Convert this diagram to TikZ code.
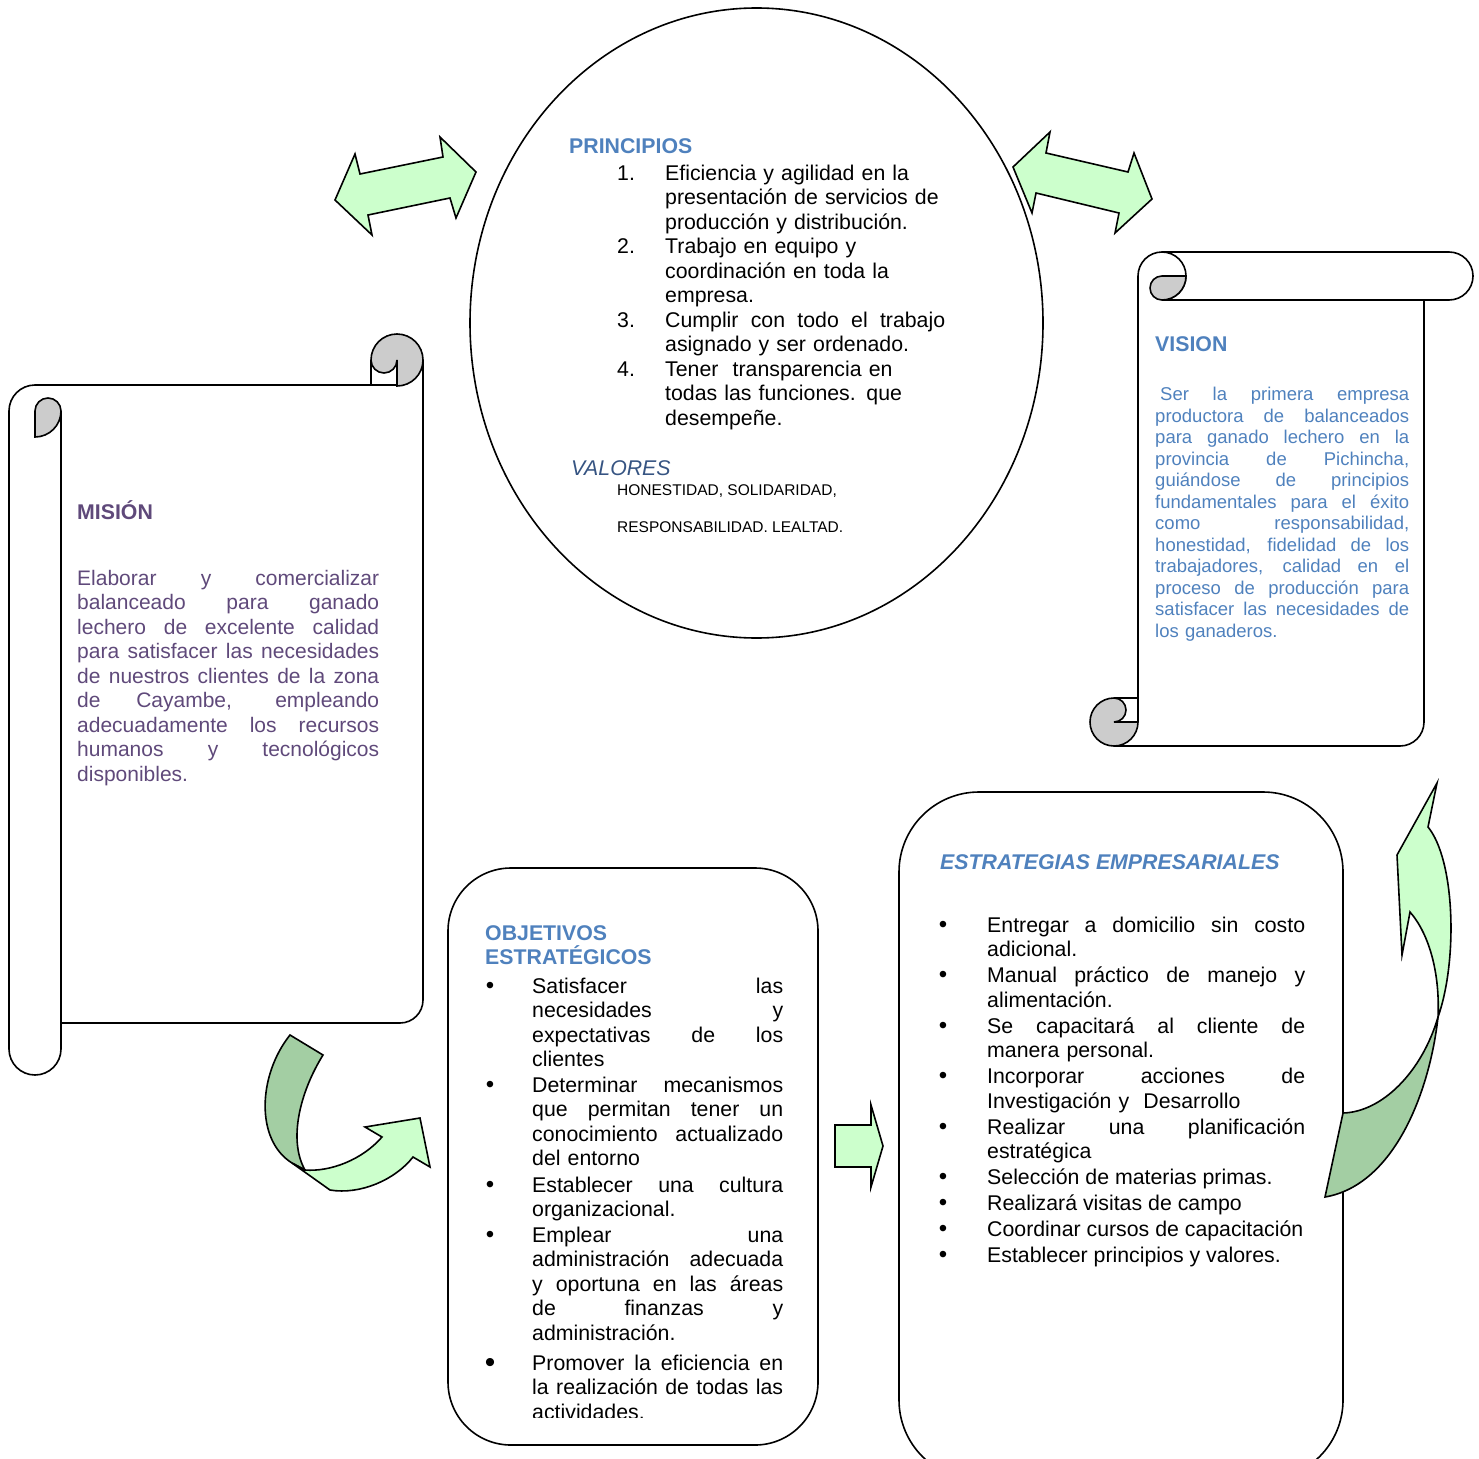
\documentclass[tikz,border=0pt]{standalone}
\usepackage{fontspec}
\setmainfont{Liberation Sans}
\usepackage{tikz}
\usetikzlibrary{arrows}
\usepackage{color}
\definecolor{headblue}{RGB}{79,129,189}
\definecolor{misviolet}{RGB}{95,73,122}
\definecolor{valblue}{RGB}{54,84,130}
\definecolor{lightgreen}{RGB}{204,255,204}
\definecolor{darkgreen}{RGB}{163,206,163}
\definecolor{curlgray}{RGB}{204,204,204}
\newcommand{\jl}[1]{\makebox[\linewidth][s]{\spaceskip=0pt\xspaceskip=0pt #1}}
\tikzset{
  scrollline/.style={draw=black,line width=1.6pt},
  greenarrow/.style={scrollline,fill=lightgreen,line join=miter},
  curlfill/.style={scrollline,fill=curlgray},
  bodytext/.style={inner sep=0pt,anchor=base west,align=left,font=\fontsize{21.3}{24.5}\selectfont},
  visiontext/.style={bodytext,text=headblue,font=\fontsize{18.5}{21.5}\selectfont},
  headtext/.style={bodytext,text=headblue,font=\fontsize{21.3}{24.5}\selectfont\bfseries},
  bulletdot/.style={inner sep=0pt,anchor=base,font=\fontsize{24}{24.5}\selectfont}
}

\begin{document}
\begin{tikzpicture}[x=1pt,y=1pt]
\useasboundingbox (0,0) rectangle (1479,-1458);
\clip (0,0) rectangle (1479,-1458);

% principios y valores
\draw[scrollline] (756.5,-323) ellipse (286.5 and 315);
\node[headtext] (princ) at (569,-154) {PRINCIPIOS};
\foreach \n/\y in {1/180,2/253.5,3/327,4/376} % edit here for the numbers
\node[bodytext] (num\n) at (617,-\y) {\n.};
\node[bodytext,text width=280pt] (prin1) at (665,-180) {Eficiencia y agilidad en la\\presentación de servicios de\\producción y distribución.};
\node[bodytext,text width=280pt] (prin2) at (665,-253.5) {Trabajo en equipo y\\coordinación en toda la\\empresa.};
\node[bodytext,text width=280pt] (prin3) at (665,-327) {\jl{Cumplir con todo el trabajo}\\asignado y ser ordenado.};
\node[bodytext,text width=280pt] (prin4) at (665,-376) {Tener\ \ transparencia en\\todas las funciones. que\\desempeñe.};
\node[bodytext,text=valblue,font=\fontsize{21.3}{24.5}\selectfont\itshape] (valores) at (571,-475) {VALORES};
\node[bodytext,font=\fontsize{15.5}{18}\selectfont] (val1) at (617,-495) {HONESTIDAD, SOLIDARIDAD,};
\node[bodytext,font=\fontsize{15.5}{18}\selectfont] (val2) at (617,-532) {RESPONSABILIDAD. LEALTAD.};

% double arrows at the top
\draw[greenarrow] (335,-200) -- (355,-154) -- (360,-174) -- (443,-157) -- (440,-137) -- (476,-172) -- (456,-218) -- (450,-198) -- (368,-215) -- (372,-235) -- cycle;
\draw[greenarrow] (1013,-167) -- (1050,-132) -- (1046,-153) -- (1128,-172) -- (1134,-153) -- (1152,-199) -- (1115,-233) -- (1119,-213) -- (1036,-193) -- (1032,-213) -- cycle;

% vision scroll
\draw[scrollline] (1138,-722) -- (1138,-276) arc[start angle=180,end angle=90,radius=24] -- (1449,-252) arc[start angle=90,end angle=-90,radius=24] -- (1162,-300);
\draw[scrollline] (1162,-252) arc[start angle=90,end angle=-90,radius=24];
\draw[curlfill] (1162,-276) -- (1186,-276) arc[start angle=0,end angle=-90,radius=24] arc[start angle=-90,end angle=-270,radius=12] -- cycle;
\draw[scrollline] (1424,-300) -- (1424,-722) arc[start angle=0,end angle=-90,radius=24] -- (1114,-746);
\draw[curlfill] (1114,-698) arc[start angle=90,end angle=360,radius=24] -- (1114,-722) arc[start angle=-90,end angle=90,radius=12] -- cycle;
\draw[scrollline] (1114,-698) -- (1138,-698);
\node[headtext] (vis) at (1155,-351) {VISION};
\node[visiontext,text width=254pt] (vistxt) at (1155,-400.5) {\jl{\hspace*{5pt}Ser la primera empresa}\\\jl{productora de balanceados}\\\jl{para ganado lechero en la}\\\jl{provincia de Pichincha,}\\\jl{guiándose de principios}\\\jl{fundamentales para el éxito}\\\jl{como responsabilidad,}\\\jl{honestidad, fidelidad de los}\\\jl{trabajadores, calidad en el}\\\jl{proceso de producción para}\\\jl{satisfacer las necesidades de}\\los ganaderos.};

% mision scroll
\draw[scrollline] (61,-411) -- (61,-1049) arc[start angle=0,end angle=-180,radius=26] -- (9,-411) arc[start angle=180,end angle=90,radius=26] -- (397,-385);
\draw[curlfill] (35,-411) arc[start angle=180,end angle=0,radius=13] arc[start angle=0,end angle=-90,radius=26] -- cycle;
\draw[curlfill] (371,-360) arc[start angle=180,end angle=-90,radius=26] -- (397,-360) arc[start angle=0,end angle=-180,radius=13] -- cycle;
\draw[scrollline] (371,-360) -- (371,-385);
\draw[scrollline] (423,-360) -- (423,-1000) arc[start angle=0,end angle=-90,radius=23] -- (61,-1023);
\node[headtext,text=misviolet] (mis) at (77,-519) {MISIÓN};
\node[bodytext,text=misviolet,text width=302pt,font=\fontsize{21}{24.5}\selectfont] (mistxt) at (77,-585) {\jl{Elaborar y comercializar}\\\jl{balanceado para ganado}\\\jl{lechero de excelente calidad}\\\jl{para satisfacer las necesidades}\\\jl{de nuestros clientes de la zona}\\\jl{de Cayambe, empleando}\\\jl{adecuadamente los recursos}\\\jl{humanos y tecnológicos}\\disponibles.};

% curved arrow mision -> objetivos
\draw[scrollline,fill=darkgreen] (290,-1035) -- (323,-1055) .. controls (300,-1092) and (288,-1140) .. (305,-1170) -- (292,-1163) .. controls (255,-1140) and (258,-1075) .. (290,-1035) -- cycle;
\draw[greenarrow] (292,-1163) -- (305,-1170) .. controls (330,-1172) and (362,-1160) .. (382,-1137) -- (365,-1127) -- (420,-1118) -- (430,-1167) -- (413,-1157) .. controls (395,-1180) and (360,-1195) .. (330,-1190) -- cycle;

% objetivos
\draw[scrollline,rounded corners=63pt] (448,-868) rectangle (818,-1445);
\node[headtext,text width=250pt] (obj) at (485,-940) {OBJETIVOS\\ESTRATÉGICOS};
\foreach \y in {993,1092,1192,1242} % edit here for the bullets
\node[bulletdot] (objdot\y) at (490,-\y) {•};
\node[bulletdot,font=\fontsize{30}{30}\selectfont] (objdot1370) at (490,-1372) {•};
\begin{scope}
\clip (448,-860) rectangle (818,-1417);
\node[bodytext,text width=251pt] (obj1) at (532,-993) {\jl{Satisfacer las}\\\jl{necesidades y}\\\jl{expectativas de los}\\clientes};
\node[bodytext,text width=251pt] (obj2) at (532,-1092) {\jl{Determinar mecanismos}\\\jl{que permitan tener un}\\\jl{conocimiento actualizado}\\del entorno};
\node[bodytext,text width=251pt] (obj3) at (532,-1192) {\jl{Establecer una cultura}\\organizacional.};
\node[bodytext,text width=251pt] (obj4) at (532,-1242) {\jl{Emplear una}\\\jl{administración adecuada}\\\jl{y oportuna en las áreas}\\\jl{de finanzas y}\\administración.};
\node[bodytext,text width=251pt] (obj5) at (532,-1370) {\jl{Promover la eficiencia en}\\\jl{la realización de todas las}\\actividades.};
\end{scope}

% arrow objetivos -> estrategias
\draw[greenarrow] (835,-1125) -- (871,-1125) -- (871,-1105) -- (883,-1146) -- (871,-1187) -- (871,-1167) -- (835,-1167) -- cycle;

% estrategias
\draw[scrollline,rounded corners=80pt] (899,-792) rectangle (1343,-1480);
\node[headtext,font=\fontsize{21.3}{24.5}\selectfont\bfseries\itshape] (estr) at (940,-869) {ESTRATEGIAS EMPRESARIALES};
\foreach \y in {932,982.5,1033,1083.5,1134,1184,1210,1236,1262} % edit here for the bullets
\node[bulletdot] (estdot\y) at (943,-\y) {•};
\node[bodytext,text width=318pt] (est1) at (987,-932) {\jl{Entregar a domicilio sin costo}\\adicional.};
\node[bodytext,text width=318pt] (est2) at (987,-982.5) {\jl{Manual práctico de manejo y}\\alimentación.};
\node[bodytext,text width=318pt] (est3) at (987,-1033) {\jl{Se capacitará al cliente de}\\manera personal.};
\node[bodytext,text width=318pt] (est4) at (987,-1083.5) {\jl{Incorporar acciones de}\\Investigación y\ \ Desarrollo};
\node[bodytext,text width=318pt] (est5) at (987,-1134) {\jl{Realizar una planificación}\\estratégica};
\node[bodytext] (est6) at (987,-1184) {Selección de materias primas.};
\node[bodytext] (est7) at (987,-1210) {Realizará visitas de campo};
\node[bodytext] (est8) at (987,-1236) {Coordinar cursos de capacitación};
\node[bodytext] (est9) at (987,-1262) {Establecer principios y valores.};

% curved arrow estrategias -> vision
\draw[greenarrow] (1437,-783) -- (1428,-827) .. controls (1455,-860) and (1458,-960) .. (1438,-1017) .. controls (1440,-975) and (1430,-935) .. (1410,-912) -- (1402,-955) -- (1397,-855) -- cycle;
\draw[scrollline,fill=darkgreen] (1343,-1113) .. controls (1382,-1112) and (1422,-1072) .. (1438,-1017) .. controls (1430,-1090) and (1395,-1185) .. (1325,-1197) -- cycle;
\end{tikzpicture}
\end{document}
